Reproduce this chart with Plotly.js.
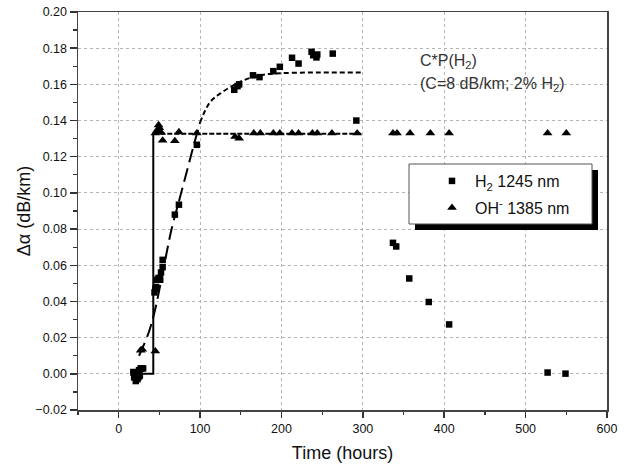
<!DOCTYPE html>
<html>
<head>
<meta charset="utf-8">
<script src="https://cdn.plot.ly/plotly-3.0.1.min.js"></script>
<style>html,body{margin:0;padding:0;background:#fff;}#chart{width:627px;height:466px;}</style>
</head>
<body>
<div id="chart"></div>
<script>
// H2 1245 nm (squares)
const h2Time = [18, 19, 20, 21, 22, 23, 24, 25, 26, 27, 28, 30, 44, 45, 46, 47, 49, 51, 52, 54, 54, 69, 74, 96, 142, 146, 148, 165, 173, 190, 198, 213, 221, 237, 239, 243, 244, 263, 292, 337, 341, 357, 381, 406, 527, 549];
const h2Val = [0.001, -0.002, -0.001, -0.004, 0.000, -0.003, -0.002, 0.002, -0.001, 0.003, 0.003, 0.003, 0.045, 0.047, 0.048, 0.052, 0.053, 0.052, 0.056, 0.059, 0.063, 0.088, 0.0935, 0.1266, 0.157, 0.159, 0.160, 0.165, 0.164, 0.1673, 0.1697, 0.1747, 0.1715, 0.178, 0.1761, 0.1749, 0.1765, 0.177, 0.140, 0.0724, 0.0704, 0.0527, 0.0397, 0.0273, 0.0007, 0.0001];
// OH- 1385 nm (triangles)
const ohTime = [20, 23, 25, 27, 29, 45, 45, 47, 49, 50, 52, 54, 69, 74, 96, 143, 148, 166, 174, 190, 198, 213, 221, 238, 244, 262, 293, 337, 342, 358, 383, 406, 527, 550];
const ohVal = [0.000, -0.002, 0.001, 0.013, 0.0135, 0.0125, 0.133, 0.1345, 0.1375, 0.136, 0.1335, 0.129, 0.1287, 0.1336, 0.133, 0.1311, 0.1302, 0.133, 0.133, 0.133, 0.133, 0.133, 0.133, 0.133, 0.133, 0.133, 0.133, 0.133, 0.133, 0.133, 0.133, 0.133, 0.133, 0.133];
// H2 model curve C*P(H2): rising part and plateau part
const fitH2RiseTime = [25, 37, 45, 55, 65, 75, 85, 92, 100];
const fitH2RiseVal = [0.010, 0.023, 0.036, 0.058, 0.080, 0.097, 0.114, 0.126, 0.139];
const fitH2PlateauTime = [100, 112, 125, 141, 155, 166, 180, 200, 230, 260, 300];
const fitH2PlateauVal = [0.139, 0.150, 0.155, 0.1595, 0.1625, 0.1642, 0.1655, 0.1662, 0.1665, 0.1666, 0.1666];
// OH step fit
const fitOHStepTime = [30, 42.5, 42.5];
const fitOHStepVal = [0, 0, 0.1327];
const fitOHLevelTime = [42.5, 300];
const fitOHLevelVal = [0.1327, 0.1327];

const traces = [
  {x: fitOHStepTime, y: fitOHStepVal, mode: 'lines', line: {color: '#000', width: 2}, showlegend: false, hoverinfo: 'skip'},
  {x: fitOHLevelTime, y: fitOHLevelVal, mode: 'lines', line: {color: '#000', width: 2, dash: '5px,2px'}, showlegend: false, hoverinfo: 'skip'},
  {x: fitH2RiseTime, y: fitH2RiseVal, mode: 'lines', line: {color: '#000', width: 2, dash: '14px,6px', shape: 'spline'}, showlegend: false, hoverinfo: 'skip'},
  {x: fitH2PlateauTime, y: fitH2PlateauVal, mode: 'lines', line: {color: '#000', width: 2, dash: '5px,3px', shape: 'spline'}, showlegend: false, hoverinfo: 'skip'},
  {x: h2Time, y: h2Val, mode: 'markers', name: 'H<sub>2</sub> 1245 nm', legendgroup: 'a',
   marker: {symbol: 'square', size: 6.5, color: '#000'}},
  {x: ohTime, y: ohVal, mode: 'markers', name: 'OH<sup>-</sup> 1385 nm', legendgroup: 'b',
   marker: {symbol: 'triangle-up', size: 8.5, color: '#000'}}
];

const px2x = p => (p - 78) / 529;
const px2y = p => (410 - p) / 398;

const layout = {
  width: 627, height: 466,
  margin: {l: 78, r: 20, t: 12, b: 56},
  paper_bgcolor: '#fff', plot_bgcolor: '#fff',
  font: {family: 'Liberation Sans, Arial, sans-serif', color: '#111'},
  xaxis: {
    range: [-50, 600], tick0: 0, dtick: 100, ticks: 'outside', ticklen: 6, tickwidth: 1.5, tickcolor: '#333',
    minor: {dtick: 50, tick0: 0, ticks: 'outside', ticklen: 3, tickwidth: 1.2, tickcolor: '#333', showgrid: false},
    showgrid: true, gridcolor: '#b5b5b5', griddash: 'dot', gridwidth: 1,
    zeroline: false, showline: true, mirror: true, linecolor: '#444', linewidth: 1.5,
    tickfont: {size: 12.5, color: '#111'},
    title: {text: 'Time (hours)', font: {size: 18, color: '#111'}, standoff: 12}
  },
  yaxis: {
    range: [-0.02, 0.20], tick0: 0, dtick: 0.02, tickformat: '.2f', ticks: 'outside', ticklen: 7, tickwidth: 1.5, tickcolor: '#333',
    minor: {dtick: 0.01, tick0: 0, ticks: 'outside', ticklen: 3.5, tickwidth: 1.2, tickcolor: '#333', showgrid: false},
    showgrid: true, gridcolor: '#b5b5b5', griddash: 'dot', gridwidth: 1,
    zeroline: false, showline: true, mirror: true, linecolor: '#444', linewidth: 1.5,
    tickfont: {size: 12.5, color: '#111'},
    title: {text: 'Δα (dB/km)', font: {size: 18, color: '#111'}, standoff: 0}
  },
  legend: {
    x: px2x(429), y: px2y(164), xanchor: 'left', yanchor: 'top',
    bgcolor: 'rgba(0,0,0,0)', borderwidth: 0, tracegroupgap: 3, itemwidth: 36,
    font: {size: 16, color: '#111'}
  },
  shapes: [
    {type: 'rect', xref: 'paper', yref: 'paper', x0: px2x(415), x1: px2x(598), y0: px2y(230), y1: px2y(170),
     fillcolor: '#000', line: {width: 0}, layer: 'above'},
    {type: 'rect', xref: 'paper', yref: 'paper', x0: px2x(409), x1: px2x(592), y0: px2y(224), y1: px2y(164),
     fillcolor: '#fff', line: {color: '#555', width: 1}, layer: 'above'}
  ],
  annotations: [
    {xref: 'paper', yref: 'paper', x: px2x(418), y: px2y(62), xanchor: 'left', yanchor: 'middle', showarrow: false,
     text: 'C*P(H<sub>2</sub>)', font: {size: 16, color: '#333'}},
    {xref: 'paper', yref: 'paper', x: px2x(418), y: px2y(84), xanchor: 'left', yanchor: 'middle', showarrow: false,
     text: '(C=8 dB/km; 2% H<sub>2</sub>)', font: {size: 16, color: '#333'}}
  ]
};

Plotly.newPlot('chart', traces, layout, {displayModeBar: false, staticPlot: true});
</script>
</body>
</html>
